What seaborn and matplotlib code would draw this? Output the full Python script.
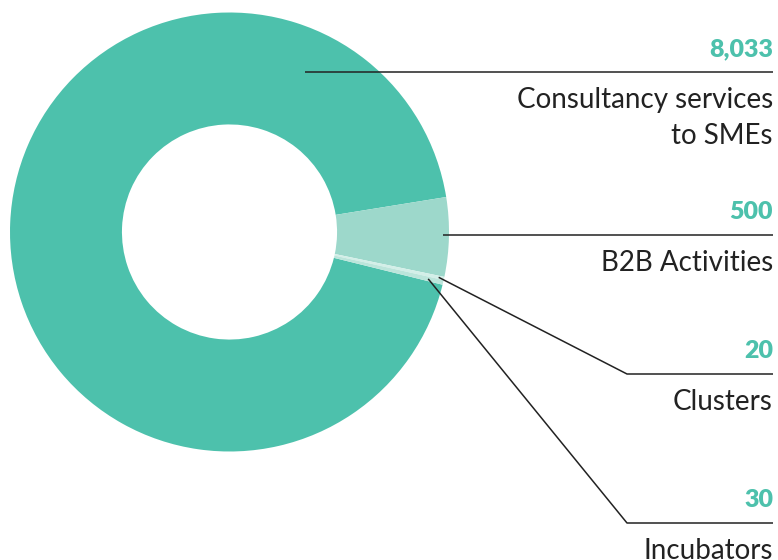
import numpy as np
import matplotlib
matplotlib.use('Agg')
import matplotlib.pyplot as plt
import seaborn as sns

# ------------------------------------------------------------
# Data
# ------------------------------------------------------------
categories = ['Consultancy services\nto SMEs', 'B2B Activities', 'Clusters', 'Incubators']
values = [8033, 500, 20, 30]
value_labels = ['8,033', '500', '20', '30']
colors = ['#4DC1AC', '#9DD8CB', '#D3EFE8', '#BCE5DB']

sns.set_theme(style='white')
plt.rcParams['font.family'] = ['Lato', 'DejaVu Sans']

W, H = 778, 560
fig = plt.figure(figsize=(W / 100, H / 100), dpi=100)

# pie axes: centre and radius in pixels
cx, cy, R = 229.5, 232, 219.5
ax = fig.add_axes([(cx - R) / W, (H - cy - R) / H, 2 * R / W, 2 * R / H])
wedges, _ = ax.pie(values, colors=colors, startangle=-13.9, counterclock=False,
                   radius=1, wedgeprops=dict(width=0.51, linewidth=0))
ax.set_xlim(-1, 1)
ax.set_ylim(-1, 1)
ax.set_aspect('equal')
ax.axis('off')

# overlay in pixel coordinates for leader lines and labels
ov = fig.add_axes([0, 0, 1, 1])
ov.set_xlim(0, W)
ov.set_ylim(H, 0)
ov.axis('off')


def to_px(angle_deg, r):
    a = np.deg2rad(angle_deg)
    disp = ax.transData.transform((r * np.cos(a), r * np.sin(a)))
    return ov.transData.inverted().transform(disp)


# anchor (angle, radius) on the ring; first one sits on its label row
mids = [(w.theta1 + w.theta2) / 2 for w in wedges]
anchors = [(64.7, 0.8), (mids[1], 0.975), (mids[2], 0.975), (mids[3], 0.93)]
line_y = [72, 235, 374, 523]
elbow_x = [None, None, 627, 627]
right_x = 773

for i, cat in enumerate(categories):
    x0, y0 = to_px(*anchors[i])
    if elbow_x[i] is None:
        xs, ys = [x0, right_x], [line_y[i], line_y[i]]
    else:
        xs, ys = [x0, elbow_x[i], right_x], [y0, line_y[i], line_y[i]]
    ov.plot(xs, ys, color='#222222', lw=1.1, solid_capstyle='butt')
    ov.text(right_x, line_y[i] - 16, value_labels[i], ha='right', va='baseline',
            fontsize=18, fontweight='heavy', color='#4DC1AC')
    for k, part in enumerate(cat.split('\n')):
        ov.text(right_x, line_y[i] + 36 + 36 * k, part, ha='right', va='baseline',
                fontsize=20, fontweight='normal', color='#222222')

fig.savefig('out.png', dpi=100)
